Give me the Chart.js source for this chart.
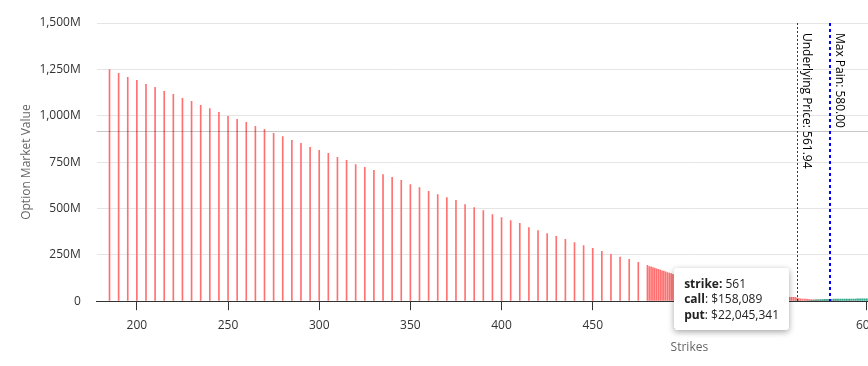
<!DOCTYPE html>
<html>
<head>
<meta charset="utf-8">
<script src="https://cdn.jsdelivr.net/npm/chart.js@4.4.1/dist/chart.umd.min.js"></script>
<style>
  html, body { margin: 0; padding: 0; background: #fff; overflow: hidden; }
  #wrap { position: relative; width: 868px; height: 366px; overflow: hidden; }
  #tip {
    position: absolute; display: none; background: #fff; color: #222;
    font: 12px 'Open Sans', 'Noto Sans', sans-serif; line-height: 15.5px;
    padding: 8px 10px; border-radius: 3px; white-space: nowrap;
    box-shadow: 0 2px 6px rgba(0, 0, 0, 0.35);
  }
</style>
</head>
<body>
<div id="wrap">
  <canvas id="maxpainchart" width="1292" height="366"></canvas>
  <div id="tip"></div>
</div>
<script>
// Strikes (every 5 up to 475, then every 1)
var strikes = [
  185, 190, 195, 200, 205, 210, 215, 220, 225, 230,
  235, 240, 245, 250, 255, 260, 265, 270, 275, 280,
  285, 290, 295, 300, 305, 310, 315, 320, 325, 330,
  335, 340, 345, 350, 355, 360, 365, 370, 375, 380,
  385, 390, 395, 400, 405, 410, 415, 420, 425, 430,
  435, 440, 445, 450, 455, 460, 465, 470, 475,
  480, 481, 482, 483, 484, 485, 486, 487, 488, 489,
  490, 491, 492, 493, 494, 495, 496, 497, 498, 499,
  500, 501, 502, 503, 504, 505, 506, 507, 508, 509,
  510, 511, 512, 513, 514, 515, 516, 517, 518, 519,
  520, 521, 522, 523, 524, 525, 526, 527, 528, 529,
  530, 531, 532, 533, 534, 535, 536, 537, 538, 539,
  540, 541, 542, 543, 544, 545, 546, 547, 548, 549,
  550, 551, 552, 553, 554, 555, 556, 557, 558, 559,
  560, 561, 562, 563, 564, 565, 566, 567, 568, 569,
  570, 571, 572, 573, 574, 575, 576, 577, 578, 579,
  580, 581, 582, 583, 584, 585, 586, 587, 588, 589,
  590, 591, 592, 593, 594, 595, 596, 597, 598, 599,
  600, 601, 602, 603, 604, 605
];

// Put market value per strike, in millions of $
var putValues = [
  1250, 1230, 1209, 1192, 1171, 1155, 1133, 1117, 1095, 1079,
  1058, 1041, 1020, 998, 982, 966, 944, 928, 907, 890,
  869, 853, 831, 815, 799, 777, 761, 739, 723, 707,
  685, 669, 653, 631, 615, 594, 577, 561, 545, 523,
  507, 491, 469, 453, 437, 421, 399, 383, 367, 351,
  335, 318, 302, 287, 271, 255, 239, 228, 212,
  195, 189, 187, 183, 180, 176, 173, 169, 166, 164,
  160, 156, 153, 151, 147, 143, 139, 136, 132, 129,
  125, 122, 119, 116, 113, 110, 107, 104, 101, 98,
  95, 92.5, 90, 87.5, 85, 82.5, 80, 77.5, 75, 73,
  71, 69, 67, 65, 63, 61, 59, 57, 55.5, 54,
  52.5, 51, 49.5, 48, 46.5, 45, 43.7, 42.4, 41.1, 39.8,
  38.5, 37.3, 36.1, 34.9, 33.7, 32.6, 31.5, 30.5, 29.5, 28.6,
  27.8, 27.0, 26.3, 25.6, 25.0, 24.4, 23.9, 23.4, 23.0, 22.6,
  22.3, 22.045341, 20.0, 16.5, 14.5, 13.8, 13.2, 12.6, 12.0, 11.0,
  10.2, 9.6, 9.2, 8.8, 8.4, 8.0, 7.6, 7.2, 6.8, 6.4,
  6.0, 5.6, 5.3, 5.0, 4.7, 4.4, 4.2, 4.0, 3.8, 3.6,
  3.4, 3.2, 3.0, 2.9, 2.8, 2.7, 2.6, 2.5, 2.4, 2.3,
  2.2, 2.1, 2.0, 1.9, 1.8, 1.7
];

// Call market value, in millions of $ (zero below 561)
var callStrikes = [
  561, 562, 563, 564, 565, 566, 567, 568, 569, 570,
  571, 572, 573, 574, 575, 576, 577, 578, 579, 580,
  581, 582, 583, 584, 585, 586, 587, 588, 589, 590,
  591, 592, 593, 594, 595, 596, 597, 598, 599, 600,
  601, 602, 603, 604, 605
];
var callValues = [
  0.158089, 0.5, 0.9, 1.4, 2.0, 2.7, 3.5, 4.4, 5.3, 6.2,
  7.0, 7.8, 8.6, 9.4, 10.1, 10.8, 11.4, 11.8, 12.1, 12.3,
  12.5, 12.6, 12.7, 12.8, 12.9, 13.0, 13.1, 13.2, 13.3, 13.4,
  13.5, 13.6, 13.7, 13.8, 13.9, 14.0, 14.1, 14.2, 14.3, 14.4,
  14.5, 14.6, 14.7, 14.8, 14.9
];

var xTicks = [200, 250, 300, 350, 400, 450, 500, 550, 600, 650, 700, 750, 800];
var yTicks = [0, 250, 500, 750, 1000, 1250, 1500];
var underlyingPrice = 561.94;
var maxPain = 580;
var hoverStrike = 561;
var crosshairValue = 917; // where the mouse was, in millions

Chart.defaults.font.family = "'Open Sans', 'Noto Sans', sans-serif";
Chart.defaults.font.size = 12;
Chart.defaults.animation = false;

function money(v) {
  return '$' + Math.round(v * 1e6).toLocaleString('en-US');
}

// html tooltip with shadow
function renderTip(context) {
  var t = context.tooltip;
  var el = document.getElementById('tip');
  if (t.opacity === 0 || !t.dataPoints || !t.dataPoints.length) { el.style.display = 'none'; return; }
  var html = '<b>strike:</b> ' + t.dataPoints[0].parsed.x;
  t.dataPoints.forEach(function (p) {
    html += '<br><b>' + p.dataset.label + '</b>: ' + money(p.parsed.y);
  });
  el.innerHTML = html;
  el.style.display = 'block';
  el.style.left = (t.caretX - 6 - el.offsetWidth) + 'px';
  el.style.top = (t.caretY - el.offsetHeight / 2) + 'px';
}

var markerLines = [
  { value: underlyingPrice, text: 'Underlying Price: ' + underlyingPrice.toFixed(2), color: '#b00000', width: 1, dash: [2, 2] },
  { value: maxPain, text: 'Max Pain: ' + maxPain.toFixed(2), color: '#0000ff', width: 2, dash: [3, 3] }
];

var linesPlugin = {
  id: 'lines',
  afterDatasetsDraw: function (chart) {
    var ctx = chart.ctx, area = chart.chartArea;
    var x = chart.scales.x, y = chart.scales.y;
    ctx.save();
    // crosshair
    var cy = Math.round(y.getPixelForValue(crosshairValue)) + 0.5;
    ctx.strokeStyle = 'rgba(0,0,0,0.22)';
    ctx.lineWidth = 1;
    ctx.beginPath();
    ctx.moveTo(area.left, cy);
    ctx.lineTo(area.right, cy);
    ctx.stroke();
    // underlying / max pain
    markerLines.forEach(function (m) {
      var px = Math.round(x.getPixelForValue(m.value)) + (m.width % 2 ? 0.5 : 0);
      ctx.strokeStyle = m.color;
      ctx.lineWidth = m.width;
      ctx.setLineDash(m.dash);
      ctx.beginPath();
      ctx.moveTo(px, area.top);
      ctx.lineTo(px, area.bottom);
      ctx.stroke();
      ctx.setLineDash([]);
      ctx.save();
      ctx.translate(px + 3, area.top + 10);
      ctx.rotate(Math.PI / 2);
      ctx.fillStyle = '#000';
      ctx.font = "12px 'Open Sans', 'Noto Sans', sans-serif";
      ctx.textAlign = 'left';
      ctx.textBaseline = 'bottom';
      ctx.fillText(m.text, 0, 0);
      ctx.restore();
    });
    ctx.restore();
  }
};

var ctx = document.getElementById('maxpainchart').getContext('2d');

var maxpainchart = new Chart(ctx, {
  type: 'bar',
  data: {
    datasets: [{
      label: 'call',
      data: callStrikes.map(function (s, i) { return { x: s, y: callValues[i] }; }),
      backgroundColor: 'rgb(48, 168, 140)'
    }, {
      label: 'put',
      data: strikes.map(function (s, i) { return { x: s, y: putValues[i] }; }),
      backgroundColor: 'rgb(255, 112, 112)'
    }]
  },
  options: {
    responsive: false,
    barPercentage: 1,
    categoryPercentage: 0.9,
    layout: { padding: { top: 23, left: 15, right: 10, bottom: 7 } },
    scales: {
      x: {
        type: 'linear',
        stacked: true,
        offset: false,
        min: 178,
        max: 828,
        afterBuildTicks: function (scale) {
          scale.ticks = xTicks.map(function (v) { return { value: v }; });
        },
        ticks: { color: '#333', padding: 8, autoSkip: false, maxRotation: 0 },
        grid: { offset: false, drawOnChartArea: false, color: '#333', tickLength: 9 },
        border: { color: '#333' },
        title: { display: true, text: 'Strikes', color: '#666', padding: { top: 0, bottom: 4 } }
      },
      y: {
        min: 0,
        max: 1500,
        afterBuildTicks: function (scale) {
          scale.ticks = yTicks.map(function (v) { return { value: v }; });
        },
        ticks: {
          color: '#333',
          padding: 2,
          callback: function (v) { return v === 0 ? '0' : v.toLocaleString('en-US') + 'M'; }
        },
        grid: { color: '#e5e5e5', tickLength: 14, tickColor: 'rgba(0,0,0,0)' },
        border: { display: false },
        title: { display: true, text: 'Option Market Value', color: '#666', padding: { top: 4, bottom: 4 } }
      }
    },
    plugins: {
      legend: { display: false },
      tooltip: { enabled: false, external: renderTip }
    }
  },
  plugins: [linesPlugin]
});

// show the hovered strike like in the screenshot
var putIdx = strikes.indexOf(hoverStrike);
var callIdx = callStrikes.indexOf(hoverStrike);
maxpainchart.tooltip.setActiveElements([
  { datasetIndex: 0, index: callIdx },
  { datasetIndex: 1, index: putIdx }
], { x: maxpainchart.scales.x.getPixelForValue(hoverStrike), y: maxpainchart.scales.y.getPixelForValue(crosshairValue) });
maxpainchart.update();
</script>
</body>
</html>
